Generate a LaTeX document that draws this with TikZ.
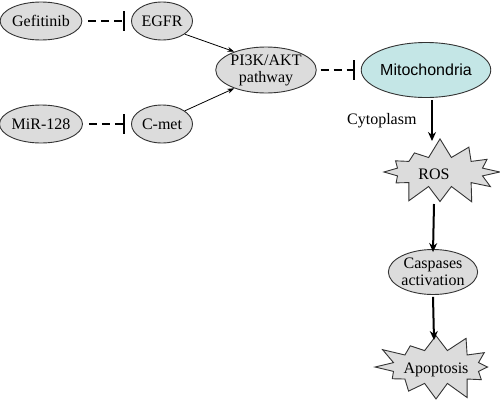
\documentclass[tikz,border=0pt]{standalone}
\usepackage{fontspec}
\setmainfont{Liberation Serif}
\newfontfamily\arialf{Liberation Sans}
\usetikzlibrary{shapes.geometric,shapes.symbols,arrows.meta}
\definecolor{nodegray}{HTML}{DCDCDC}
\definecolor{mitocyan}{HTML}{C4E6E6}
\tikzset{
  oval/.style={ellipse, draw=black!80, line width=0.9pt, fill=nodegray, inner sep=0pt, font=\fontsize{16}{17}\selectfont, align=center},
  burst/.style={starburst, draw=black!80, line width=0.9pt, fill=nodegray, inner sep=0pt, font=\fontsize{16}{17}\selectfont, starburst points=12, starburst point height=20pt},
  inhib/.style={line width=2pt, dash pattern=on 8pt off 5pt, -{Bar[width=20pt,line width=2pt]}},
  thin/.style={line width=0.8pt, -{Stealth[length=7pt,width=5pt]}},
  thick/.style={line width=2pt, -{Stealth[length=9pt,width=8pt]}}
}
\begin{document}
\begin{tikzpicture}[x=1pt,y=-1pt]
\useasboundingbox (0,0) rectangle (500,410);
\node[oval, minimum width=80pt, minimum height=38pt] (gef) at (41,21) {Gefitinib};
\node[oval, minimum width=61pt, minimum height=38pt] (egfr) at (162,21) {EGFR};
\node[oval, minimum width=80pt, minimum height=38pt] (mir) at (41,124) {MiR-128};
\node[oval, minimum width=61pt, minimum height=38pt] (cmet) at (162,124) {C-met};
\node[oval, minimum width=98pt, minimum height=46pt] (pi3k) at (266,70) {PI3K/AKT\\pathway};
\node[oval, fill=mitocyan, minimum width=122pt, minimum height=55pt, font=\arialf\fontsize{16}{17}\selectfont] (mito) at (426,70) {Mitochondria};
\node[burst, minimum width=128pt, minimum height=70pt, random starburst=7] (ros) at (440,172) {};
\node[font=\fontsize{16}{17}\selectfont] (rostxt) at (434,174) {ROS};
\node[oval, minimum width=78pt, minimum height=45pt] (casp) at (433,272) {Caspases\\activation};
\node[burst, minimum width=128pt, minimum height=74pt, random starburst=21] (apo) at (436,367) {};
\node[font=\fontsize{16}{17}\selectfont] (apotxt) at (436,370) {Apoptosis};
\node[font=\fontsize{16}{17}\selectfont, anchor=east] (cyto) at (420,121) {Cytoplasm};

\draw[inhib] ([xshift=6pt]gef.east) -- ([xshift=-6pt]egfr.west);
\draw[inhib] ([xshift=6pt]mir.east) -- ([xshift=-6pt]cmet.west);
\draw[inhib] ([xshift=4pt]pi3k.east) -- ([xshift=-6pt]mito.west);
\draw[thin] (egfr.-30) -- (pi3k.150);
\draw[thin] (cmet.30) -- (pi3k.-150);
\draw[thick] ([xshift=6pt,yshift=-2pt]mito.south) -- ([xshift=6pt]mito.south |- 0,141) coordinate (rosTop);
\draw[thick] (434,204) coordinate (r1) -- ([yshift=-3pt]casp.north);
\draw[thick] ([yshift=-2pt]casp.south) -- (434,340) coordinate (a1);
\end{tikzpicture}
\end{document}
